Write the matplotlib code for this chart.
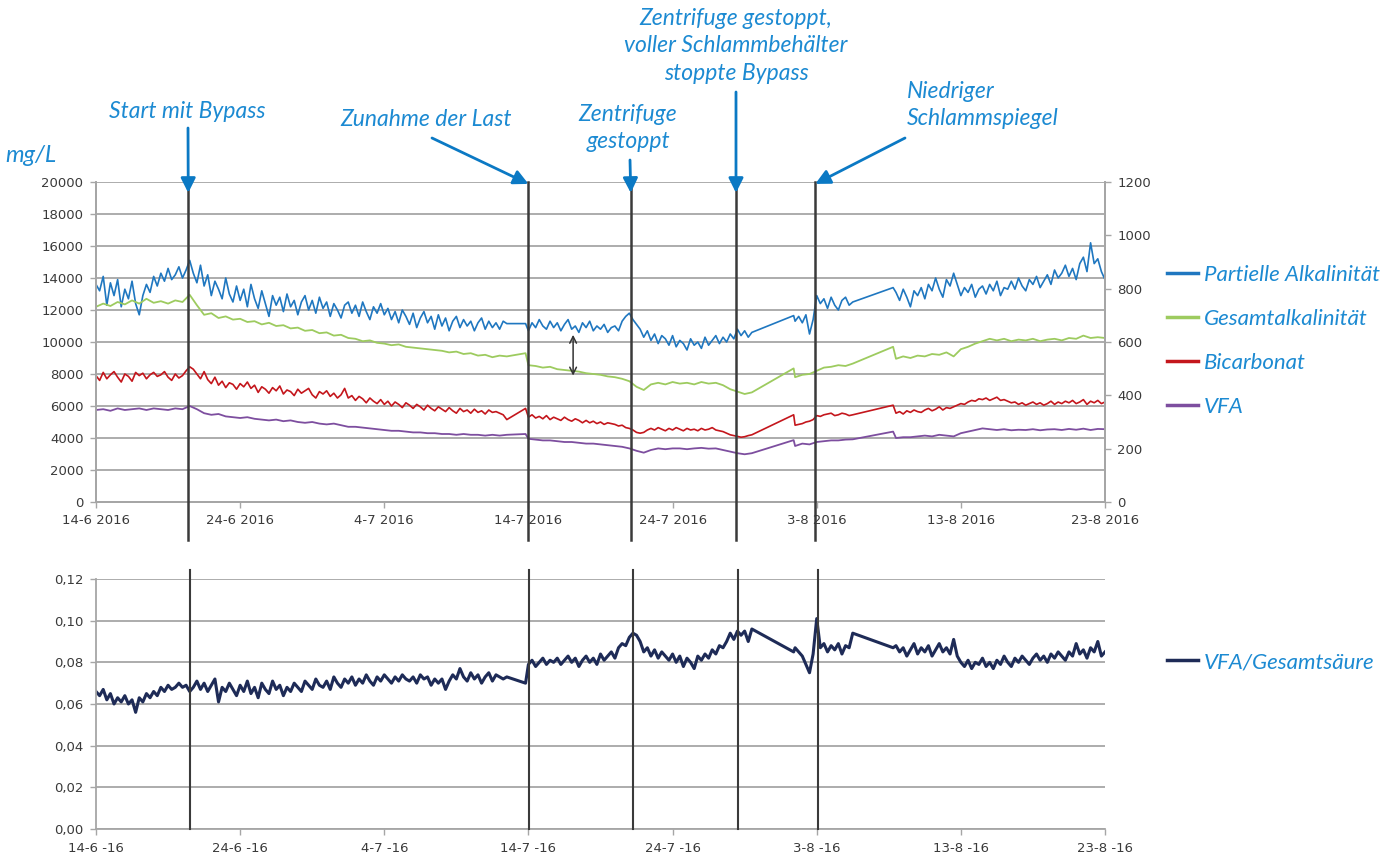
import matplotlib.pyplot as plt
import numpy as np

# sampling days since 14-6-2016, with logging gaps
# half-day grid for the smoother series, quarter-day grid for the noisy ones
days = np.concatenate([
    np.arange(0, 29, 0.5), [29.8],
    np.arange(30, 46, 0.5), [48.4],
    np.arange(48.5, 53, 0.5), [55.3],
    np.arange(55.5, 70.5, 0.5),
])
days_q = np.concatenate([
    np.arange(0, 28.75, 0.25), [29.8],
    np.arange(30, 45.75, 0.25), [48.4],
    np.arange(48.5, 52.75, 0.25), [55.3],
    np.arange(55.5, 70.25, 0.25),
])

partielle = [
    13600, 13200, 14100, 12300, 13700, 12900, 13900, 12200,
    13300, 12700, 13800, 12400, 11700, 12900, 13600, 13100,
    14100, 13500, 14300, 13800, 14600, 13900, 14200, 14700,
    14000, 14500, 15100, 14300, 13700, 14800, 13500, 14200,
    12900, 13800, 13300, 12700, 14000, 13000, 12500, 13500,
    12600, 13300, 12200, 13600, 12700, 12100, 13200, 12400,
    11600, 12900, 12300, 12800, 11900, 13000, 12200, 12600,
    11700, 12500, 12900, 12000, 12600, 11800, 12800, 12100,
    12500, 11600, 12400, 12000, 11500, 12300, 12500, 11800,
    12300, 11600, 12500, 11900, 11400, 12200, 11800, 12400,
    11700, 12100, 11400, 11900, 11200, 12000, 11600, 11100,
    11800, 10900, 11500, 11900, 11200, 11600, 10800, 11700,
    11000, 11500, 10700, 11300, 11600, 10900, 11400, 11000,
    11300, 10700, 11200, 11500, 10800, 11300, 10900, 11200,
    10800, 11300, 11150,
    11150,
    10700, 11200, 10900, 11400, 11000, 10800, 11300, 10900,
    11200, 10700, 11100, 11400, 10800, 11000, 10600, 11200,
    10900, 11300, 10700, 11000, 10800, 11100, 10600, 10900,
    11000, 10700, 11300, 11600, 11800, 11400, 11100, 10800,
    10300, 10700, 10100, 10500, 9900, 10400, 10200, 9800,
    10400, 9700, 10100, 9900, 9500, 10200, 9800, 10000,
    9600, 10300, 9800, 10100, 10400, 9900, 10300, 10000,
    10500, 10200, 10800, 10400, 10700, 10300, 10600,
    11650,
    11300, 11600, 11200, 11700, 10500, 11400, 12900, 12400, 12700,
    12100, 12800, 12300, 12000, 12600, 12800, 12300, 12500,
    13400,
    13100, 12600, 13300, 12800, 12200, 13200, 12900, 13400,
    12700, 13600, 13200, 14000, 13300, 12800, 13900, 13500,
    14300, 13600, 12900, 13400, 13100, 13600, 12800, 13300,
    13500, 13000, 13600, 13200, 13800, 12900, 13400, 13300,
    13800, 13300, 14000, 13500, 13200, 13900, 13600, 14100,
    13400, 13800, 14200, 13600, 14500, 14000, 14300, 14800,
    14100, 14600, 13900, 14900, 15300, 14400, 16200, 14900,
    15200, 14400, 13900,
]

gesamt = [
    12200, 12400, 12250, 12500, 12350, 12600, 12400, 12700, 12450, 12550,
    12400, 12600, 12500, 12950, 12300, 11700, 11800, 11500, 11600, 11400,
    11450, 11250, 11300, 11100, 11200, 11000, 11050, 10850, 10900, 10700,
    10750, 10550, 10600, 10400, 10450, 10250, 10200, 10050, 10100, 9950,
    9900, 9800, 9850, 9700, 9650, 9600, 9550, 9500, 9450, 9350,
    9400, 9250, 9300, 9150, 9200, 9050, 9150, 9100,
    9300,
    8550, 8500, 8400, 8450, 8300, 8250, 8200, 8150, 8050, 8000,
    7950, 7850, 7800, 7700, 7550, 7200, 7000, 7350, 7450, 7350,
    7500, 7400, 7450, 7350, 7500, 7400, 7450, 7300, 7050, 6900,
    6750, 6850,
    8350,
    7800, 7950, 8000, 8200, 8400, 8450, 8550, 8500, 8650,
    9700,
    8950, 9100, 9000, 9150, 9100, 9250, 9200, 9350, 9100, 9550,
    9700, 9900, 10050, 10200, 10100, 10200, 10050, 10150, 10100, 10200,
    10050, 10150, 10200, 10100, 10250, 10200, 10400, 10250, 10300, 10250,
]

bicarbonat = [
    7900, 7600, 8100, 7700, 7950, 8150, 7800, 7500,
    8000, 7850, 7550, 8100, 7900, 8050, 7700, 7950,
    8100, 7850, 7950, 8150, 7800, 7600, 8000, 7750,
    7900, 8200, 8450, 8300, 8000, 7700, 8150, 7650,
    7400, 7800, 7300, 7550, 7150, 7450, 7350, 7050,
    7400, 7200, 7500, 7100, 7300, 6850, 7200, 7050,
    6800, 7150, 6950, 7250, 6750, 7000, 6900, 6650,
    7050, 6800, 6950, 7100, 6700, 6500, 6900, 6750,
    6950, 6600, 6800, 6500, 6700, 7100, 6500, 6650,
    6350, 6600, 6450, 6200, 6500, 6300, 6150, 6400,
    6100, 6300, 6000, 6250, 6100, 5900, 6200, 6050,
    5850, 6100, 5950, 5750, 6050, 5850, 5700, 5950,
    5800, 5650, 5900, 5700, 5550, 5850, 5650, 5750,
    5550, 5800, 5600, 5700, 5500, 5750, 5600, 5650,
    5550, 5450, 5150,
    5850,
    5300, 5450, 5250, 5350, 5200, 5400, 5150, 5300,
    5200, 5100, 5300, 5150, 5050, 5200, 5100, 4950,
    5100, 4950, 5050, 4900, 5000, 4850, 4950, 4900,
    4850, 4750, 4800, 4650, 4600, 4500, 4350, 4300,
    4350, 4500, 4600, 4500, 4650, 4550, 4450, 4600,
    4500, 4650, 4550, 4450, 4600, 4500, 4550, 4450,
    4600, 4500, 4550, 4650, 4500, 4450, 4400, 4300,
    4200, 4150, 4100, 4050, 4080, 4150, 4200,
    5450,
    4800, 4850, 4900, 5000, 5050, 5150, 5400, 5350, 5450,
    5500, 5550, 5400, 5450, 5550, 5500, 5400, 5450,
    6050,
    5550, 5650, 5500, 5700, 5600, 5750, 5650, 5600,
    5750, 5850, 5700, 5800, 5950, 5750, 5900, 5850,
    5950, 6050, 6150, 6100, 6250, 6350, 6300, 6450,
    6400, 6500, 6350, 6450, 6550, 6350, 6400, 6300,
    6200, 6250, 6100, 6200, 6050, 6150, 6250, 6100,
    6200, 6050, 6150, 6300, 6100, 6250, 6150, 6300,
    6200, 6350, 6150, 6250, 6400, 6100, 6300, 6200,
    6350, 6150, 6250,
]

# VFA on the right axis
vfa = [
    345, 348, 342, 351, 345, 348, 351, 345, 351, 348,
    345, 351, 348, 360, 348, 333, 327, 330, 321, 318,
    315, 318, 312, 309, 306, 309, 303, 306, 300, 297,
    300, 294, 291, 294, 288, 282, 282, 279, 276, 273,
    270, 267, 267, 264, 261, 261, 258, 258, 255, 255,
    252, 255, 252, 252, 249, 252, 249, 252,
    255,
    237, 234, 231, 231, 228, 225, 225, 222, 219, 219,
    216, 213, 210, 207, 201, 192, 185, 195, 201, 198,
    201, 201, 198, 201, 203, 200, 201, 195, 189, 183,
    179, 183,
    232,
    210, 219, 216, 225, 228, 231, 231, 234, 235,
    264,
    240, 243, 243, 246, 249, 246, 252, 249, 246, 258,
    264, 270, 276, 273, 270, 273, 269, 271, 270, 273,
    269, 272, 273, 270, 274, 271, 275, 270, 274, 273,
]

ratio = [
    0.066, 0.064, 0.067, 0.062, 0.065, 0.060, 0.063, 0.061,
    0.064, 0.060, 0.062, 0.056, 0.063, 0.061, 0.065, 0.063,
    0.066, 0.064, 0.068, 0.066, 0.069, 0.067, 0.068, 0.070,
    0.068, 0.069, 0.066, 0.068, 0.071, 0.067, 0.070, 0.066,
    0.069, 0.072, 0.061, 0.068, 0.066, 0.070, 0.067, 0.064,
    0.069, 0.066, 0.071, 0.065, 0.068, 0.063, 0.070, 0.067,
    0.065, 0.071, 0.067, 0.069, 0.064, 0.068, 0.066, 0.070,
    0.068, 0.066, 0.071, 0.069, 0.067, 0.072, 0.069, 0.068,
    0.071, 0.067, 0.073, 0.070, 0.068, 0.072, 0.070, 0.073,
    0.069, 0.072, 0.070, 0.074, 0.071, 0.069, 0.073, 0.071,
    0.074, 0.072, 0.070, 0.073, 0.071, 0.074, 0.072, 0.071,
    0.073, 0.070, 0.074, 0.072, 0.073, 0.069, 0.072, 0.070,
    0.072, 0.067, 0.071, 0.074, 0.072, 0.077, 0.073, 0.071,
    0.075, 0.072, 0.074, 0.070, 0.073, 0.075, 0.071, 0.074,
    0.073, 0.072, 0.073,
    0.070,
    0.079, 0.081, 0.078, 0.080, 0.082, 0.079, 0.081, 0.080,
    0.082, 0.079, 0.081, 0.083, 0.080, 0.082, 0.078, 0.081,
    0.083, 0.080, 0.082, 0.079, 0.084, 0.081, 0.083, 0.085,
    0.082, 0.087, 0.089, 0.088, 0.092, 0.094, 0.093, 0.090,
    0.085, 0.087, 0.083, 0.086, 0.082, 0.085, 0.083, 0.081,
    0.084, 0.080, 0.083, 0.078, 0.082, 0.080, 0.077, 0.083,
    0.081, 0.084, 0.082, 0.086, 0.084, 0.088, 0.087, 0.090,
    0.094, 0.091, 0.095, 0.093, 0.095, 0.090, 0.096,
    0.085,
    0.087, 0.085, 0.083, 0.079, 0.075, 0.084, 0.101, 0.087, 0.089,
    0.085, 0.088, 0.086, 0.089, 0.084, 0.088, 0.087, 0.094,
    0.087,
    0.088, 0.085, 0.087, 0.083, 0.086, 0.089, 0.084, 0.087,
    0.085, 0.088, 0.083, 0.086, 0.089, 0.085, 0.087, 0.084,
    0.091, 0.083, 0.080, 0.078, 0.081, 0.077, 0.080, 0.079,
    0.082, 0.078, 0.080, 0.077, 0.081, 0.079, 0.083, 0.080,
    0.078, 0.082, 0.080, 0.083, 0.081, 0.079, 0.082, 0.084,
    0.081, 0.083, 0.080, 0.084, 0.082, 0.085, 0.083, 0.081,
    0.085, 0.083, 0.089, 0.084, 0.086, 0.082, 0.087, 0.085,
    0.090, 0.083, 0.085,
]

tick_days = [0, 10, 20, 30, 40, 50, 60, 70]
top_ticklabels = ["14-6 2016", "24-6 2016", "4-7 2016", "14-7 2016",
                  "24-7 2016", "3-8 2016", "13-8 2016", "23-8 2016"]
bottom_ticklabels = ["14-6 -16", "24-6 -16", "4-7 -16", "14-7 -16",
                     "24-7 -16", "3-8 -16", "13-8 -16", "23-8 -16"]
ratio_ticks = [0, 0.02, 0.04, 0.06, 0.08, 0.10, 0.12]
ratio_ticklabels = ["0,00", "0,02", "0,04", "0,06", "0,08", "0,10", "0,12"]

event_days_top = [6.4, 30.0, 37.1, 44.4, 49.9]
event_days_bottom = [6.55, 30.05, 37.25, 44.55, 50.1]
event_labels = ["Start mit Bypass", "Zunahme der Last", "Zentrifuge\ngestoppt",
                "Zentrifuge gestoppt,\nvoller Schlammbehälter\nstoppte Bypass",
                "Niedriger\nSchlammspiegel"]

BLUE = '#1F77C0'
GREEN = '#9DCB5F'
RED = '#C4161C'
PURPLE = '#7D4E9F'
NAVY = '#1E2B57'
TXT = '#1C8AD2'
ARROW = '#0B79C4'
GRID = '#A6A6A6'
LAB = '#3A3A3A'
EVT = '#3A3A3A'

W, H = 1397, 861
fig = plt.figure(figsize=(W / 100, H / 100), dpi=100)


def box(l, t, r, b):
    return [l / W, 1 - b / H, (r - l) / W, (b - t) / H]


ita = dict(family=['Lato', 'DejaVu Sans'], style='italic', color=TXT)
legprop = dict(family=['Lato', 'DejaVu Sans'], style='italic', size=16)

# ---- top panel
ax = fig.add_axes(box(96, 182, 1105, 502))
ax2 = ax.twinx()
ax.plot(days_q, partielle, color=BLUE, lw=1.2, label='Partielle Alkalinität')
ax.plot(days, gesamt, color=GREEN, lw=1.3, label='Gesamtalkalinität')
ax.plot(days_q, bicarbonat, color=RED, lw=1.2, label='Bicarbonat')
ax2.plot(days, vfa, color=PURPLE, lw=1.3, label='VFA')

ax.set_xlim(0, 70)
ax.set_ylim(0, 20000)
ax2.set_ylim(0, 1200)
ax.set_yticks(range(0, 20001, 2000))
ax2.set_yticks(range(0, 1201, 200))
ax.set_xticks(tick_days)
ax.set_xticklabels(top_ticklabels)
ax.grid(axis='y', color=GRID, lw=1.3)
ax.set_axisbelow(True)
for a in (ax, ax2):
    a.spines['top'].set_visible(False)
    for s in ('left', 'right', 'bottom'):
        a.spines[s].set_color(GRID)
        a.spines[s].set_linewidth(1.3)
    a.tick_params(direction='out', length=4, width=1, color=GRID,
                  labelsize=9.5, labelcolor=LAB, pad=5)

for d in event_days_top:
    ax2.axvline(d, ymin=-0.12, ymax=1.0, clip_on=False, color=EVT, lw=1.8, zorder=6)

# double arrow between partial and total alkalinity
ax.annotate('', xy=(33.1, 7900), xytext=(33.1, 10450),
            arrowprops=dict(arrowstyle='<->', color='#333333', lw=1.1,
                            shrinkA=0, shrinkB=0, mutation_scale=12))

fig.text(5 / W, 1 - 155 / H, 'mg/L', ha='left', va='center', fontsize=17, **ita)

# annotations: text position (px), arrow start (px), arrow tip height (axes fraction)
ann_text = [(187, 111, 'center'), (426, 119, 'center'), (628, 128, 'center'),
            (736, 46, 'center'), (907, 105, 'left')]
ann_from = [(188, 128), (432, 138), (630, 160), (736, 92), (905, 138)]
ann_tip = [0.966, 0.994, 0.966, 0.966, 0.994]
for d, lab, (tx, ty, ha), (fx, fy), tip in zip(event_days_top, event_labels,
                                                ann_text, ann_from, ann_tip):
    fig.text(tx / W, 1 - ty / H, lab, ha=ha, va='center', fontsize=16.5,
             linespacing=1.36, multialignment=ha, **ita)
    ax2.annotate('', xy=(d, tip), xycoords=('data', 'axes fraction'),
                 xytext=(fx, H - fy), textcoords='figure pixels',
                 arrowprops=dict(arrowstyle='-|>', color=ARROW, lw=2,
                                 mutation_scale=22, shrinkA=0, shrinkB=0),
                 annotation_clip=False, zorder=7)

h1, l1 = ax.get_legend_handles_labels()
h2, l2 = ax2.get_legend_handles_labels()
leg = fig.legend(h1 + h2, l1 + l2, loc='upper left',
                 bbox_to_anchor=(1147 / W, 1 - 245 / H), frameon=False,
                 handlelength=1.4, handletextpad=0.25, labelspacing=1.08,
                 prop=legprop)
for t in leg.get_texts():
    t.set_color(TXT)
for ln in leg.get_lines():
    ln.set_linewidth(2.5)

# ---- bottom panel
axb = fig.add_axes(box(96, 579, 1105, 829))
axb.plot(days_q, ratio, color=NAVY, lw=2.2, label='VFA/Gesamtsäure')
axb.set_xlim(0, 70)
axb.set_ylim(0, 0.12)
axb.set_yticks(ratio_ticks)
axb.set_yticklabels(ratio_ticklabels)
axb.set_xticks(tick_days)
axb.set_xticklabels(bottom_ticklabels)
axb.grid(axis='y', color=GRID, lw=1.3)
axb.set_axisbelow(True)
for s in ('top', 'right'):
    axb.spines[s].set_visible(False)
for s in ('left', 'bottom'):
    axb.spines[s].set_color(GRID)
    axb.spines[s].set_linewidth(1.3)
axb.tick_params(direction='out', length=4, width=1, color=GRID,
                labelsize=9.5, labelcolor=LAB, pad=5)
for d in event_days_bottom:
    axb.axvline(d, ymin=0, ymax=1.036, clip_on=False, color=EVT, lw=1.5, zorder=6)

legb = axb.legend(loc='upper left', bbox_to_anchor=(1147 / W, 1 - 632 / H),
                  bbox_transform=fig.transFigure, frameon=False,
                  handlelength=1.4, handletextpad=0.25, prop=legprop)
for t in legb.get_texts():
    t.set_color(TXT)
for ln in legb.get_lines():
    ln.set_linewidth(2.5)

fig.savefig('out.png', dpi=100)
